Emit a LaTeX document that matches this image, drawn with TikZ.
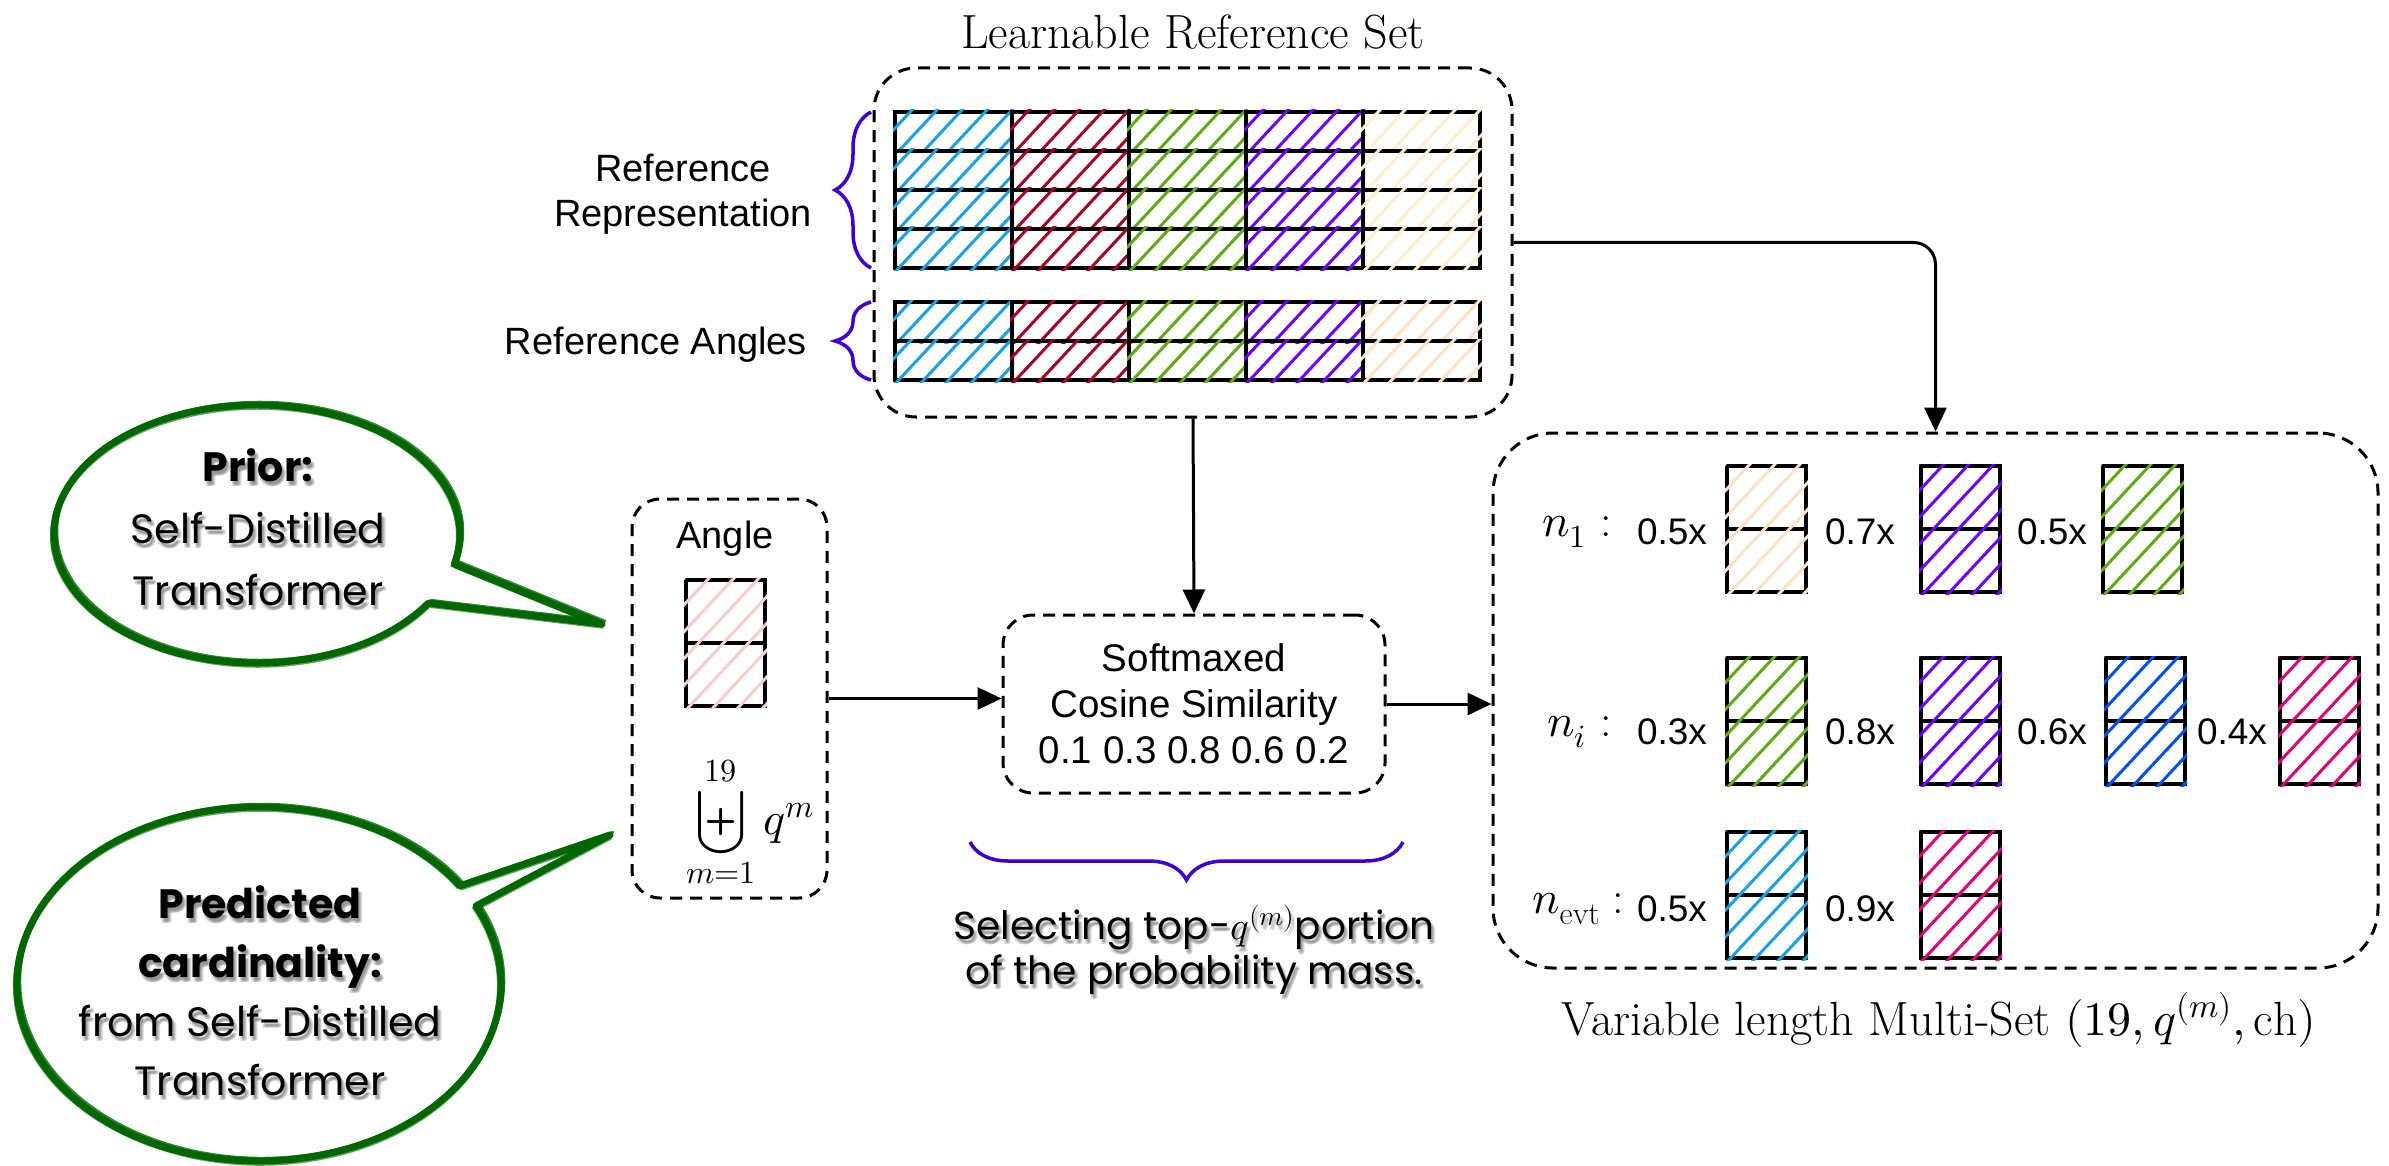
\documentclass[tikz,border=0pt]{standalone}
\usepackage{fontspec}
\usepackage{unicode-math}
\usetikzlibrary{arrows.meta,decorations.pathreplacing,calc}

\newfontfamily\helv{Liberation Sans}
\newfontfamily\comic{Poppins}

\definecolor{hcyan}{HTML}{1BA1E2}
\definecolor{hred}{HTML}{A20025}
\definecolor{hgreen}{HTML}{60A917}
\definecolor{hpurple}{HTML}{6A00FF}
\definecolor{hcream}{HTML}{FFEFCC}
\definecolor{hpeach}{HTML}{FFE2C6}
\definecolor{hblue}{HTML}{0050EF}
\definecolor{hpink}{HTML}{D80073}
\definecolor{hlpink}{HTML}{F8CECC}
\definecolor{bubgreen}{RGB}{0,102,0}
\definecolor{bracecol}{RGB}{58,0,214}

\tikzset{
  dashbox/.style={draw=black, line width=3pt, dash pattern=on 12pt off 8pt,
                  rounded corners=#1, inner sep=0pt},
  gridline/.style={draw=black, line width=4.5pt},
  cellbox/.style={draw=black, line width=4.5pt, minimum width=79pt,
                  minimum height=126pt, inner sep=0pt, outer sep=0pt},
  hatchline/.style={line width=3pt, line cap=round},
  arr/.style={line width=3pt, -{Triangle[length=24pt,width=22pt]}},
  bracestyle/.style={draw=bracecol, line width=3.5pt,
                     decorate, decoration={brace, amplitude=#1}},
  sanslbl/.style={font=\helv\fontsize{38}{45}\selectfont, align=center, inner sep=0pt},
  numlbl/.style={font=\helv\fontsize{37}{42}\selectfont, inner sep=0pt},
  mathlbl/.style={font=\fontsize{46}{52}\selectfont, inner sep=0pt},
  comictext/.style={align=center, inner sep=0pt},
  bubbleline/.style={draw=bubgreen, line join=round, line cap=round},
}

% diagonal hachure clipped to the box (x1,y1)-(x2,y2)
\newcommand{\hatchfill}[5]{%
  \begin{scope}
    \clip (#1-2,#2-2) rectangle (#3+2,#4+2);
    \pgfmathsetmacro{\hatchH}{#4-#2+8}
    \pgfmathsetmacro{\hatchR}{\hatchH*0.9325}
    \foreach \xs in {-200,-175,...,140}{
      \draw[hatchline, color=#5] ({#1+\xs},{#4+4}) -- ++(\hatchR,-\hatchH);
    }
  \end{scope}}

% one two-slot cell of the multi-set
\newcommand{\setcell}[4]{%
  \node[cellbox] (#1) at ({#2+39.5},{#3+63}) {};
  \draw[gridline] (#1.west) -- (#1.east);
  \hatchfill{#2}{#3}{#2+79}{#3+126}{#4}}

% hand-drawn speech bubble: centre, radii, arc angles, tail tip
\newcommand{\speechbubble}[8]{%
  \foreach \lw/\sx/\sy/\op in {7/0/0/1, 2.5/3/-3/0.8, 2/-3/2/0.7, 1.5/1/4/0.6}{
    \draw[bubbleline, line width=\lw pt, opacity=\op, shift={(\sx,\sy)}]
      ($(#1,#2)+(#5:#3 and #4)$)
      arc[start angle=#5, end angle=#6, x radius=#3, y radius=#4]
      -- (#7,#8) -- cycle;
  }}

% casual text with a soft drop shadow; #4 font size, #5 line distance
\newcommand{\softshadowtext}[6]{%
  \foreach \dx/\dy [count=\k] in {2/3,3/5,4/4,1/5}{
    \node[comictext, font=\comic\fontsize{#4}{#5}\selectfont, text=black, opacity=0.12]
      (#1sh\k) at ({#2+\dx},{#3+\dy}) {#6};
  }
  \node[comictext, font=\comic\fontsize{#4}{#5}\selectfont] (#1) at (#2,#3) {#6};}

\begin{document}
\begin{tikzpicture}[x=1pt,y=-1pt]
\useasboundingbox (0,0) rectangle (2389,1166);
\fill[white] (0,0) rectangle (2389,1166);

% ---------- learnable reference set ----------
\node[font=\fontsize{48}{55}\selectfont, inner sep=0pt] (title) at (1193,32) {Learnable Reference Set};
\node[dashbox=42pt, minimum width=638pt, minimum height=349pt] (refbox) at (1193,242.5) {};

\foreach \ci/\hcA/\hcB in {0/hcyan/hcyan,1/hred/hred,2/hgreen/hgreen,3/hpurple/hpurple,4/hcream/hpeach}{
  \pgfmathsetmacro{\xa}{895+117*\ci}
  \pgfmathsetmacro{\xb}{\xa+117}
  \foreach \ya in {112,151,190,229}{
    \draw[gridline] (\xa,\ya) rectangle (\xb,\ya+39);
    \hatchfill{\xa}{\ya}{\xb}{\ya+39}{\hcA}
  }
  \foreach \ya in {302,341}{
    \draw[gridline] (\xa,\ya) rectangle (\xb,\ya+39);
    \hatchfill{\xa}{\ya}{\xb}{\ya+39}{\hcB}
  }
}

\coordinate (brA1) at (871,268);
\coordinate (brA2) at (871,112);
\coordinate (brB1) at (871,380);
\coordinate (brB2) at (871,302);
\draw[bracestyle=36pt] (brA1) -- (brA2);
\draw[bracestyle=36pt] (brB1) -- (brB2);
\node[sanslbl] (reprlbl) at (683,194.5) {Reference\\Representation};
\node[sanslbl] (anglbl) at (656,345) {Reference Angles};

% ---------- angle query ----------
\node[dashbox=28pt, minimum width=195pt, minimum height=399pt] (anglebox) at (729.5,698.5) {};
\node[sanslbl] (angtxt) at (725,539) {Angle};
\node[cellbox] (angcell) at (725.5,643) {};
\draw[gridline] (angcell.west) -- (angcell.east);
\hatchfill{686}{580}{765}{706}{hlpink}
\node[font=\fontsize{46}{55}\selectfont, inner sep=0pt] (sumq) at (750,822)
  {$\displaystyle\biguplus_{m=1}^{19} q^{m}$};

% ---------- similarity ----------
\node[dashbox=30pt, minimum width=382pt, minimum height=178pt, sanslbl,
      font=\helv\fontsize{38.5}{46}\selectfont] (soft) at (1194,704)
  {Softmaxed\\Cosine Similarity\\0.1 0.3 0.8 0.6 0.2};
\coordinate (brC1) at (1403,842);
\coordinate (brC2) at (970,842);
\draw[bracestyle=38pt] (brC1) -- (brC2);
\softshadowtext{selecttxt}{1194}{950}{39}{45}{Selecting top-$q^{(m)}$portion\\of the probability mass.}

% ---------- multi-set ----------
\node[dashbox=60pt, minimum width=885pt, minimum height=535pt] (msbox) at (1935.5,700.5) {};

\setcell{ca}{1727}{466}{hpeach}
\setcell{cb}{1921}{466}{hpurple}
\setcell{cc}{2103}{466}{hgreen}
\setcell{cd}{1727}{658}{hgreen}
\setcell{ce}{1921}{658}{hpurple}
\setcell{cf}{2106}{658}{hblue}
\setcell{cg}{2280}{658}{hpink}
\setcell{ch}{1727}{832}{hcyan}
\setcell{ci}{1921}{832}{hpink}

\node[mathlbl, anchor=east] (nA) at (1612,532) {$n_{1}$\hspace{14pt}:};
\node[mathlbl, anchor=east] (nB) at (1612,732) {$n_{i}$\hspace{14pt}:};
\node[mathlbl, anchor=east] (nC) at (1624,909) {$n_{\mathrm{evt}}$\hspace{12pt}:};

\node[numlbl] (wa) at (1672,532) {0.5x};
\node[numlbl] (wb) at (1860,532) {0.7x};
\node[numlbl] (wc) at (2052,532) {0.5x};
\node[numlbl] (wd) at (1672,732) {0.3x};
\node[numlbl] (we) at (1860,732) {0.8x};
\node[numlbl] (wf) at (2052,732) {0.6x};
\node[numlbl] (wg) at (2232,732) {0.4x};
\node[numlbl] (wh) at (1672,909) {0.5x};
\node[numlbl] (wi) at (1860,909) {0.9x};

\node[font=\fontsize{48}{55}\selectfont, inner sep=0pt] (mslbl) at (1939,1020)
  {Variable length Multi-Set $(19,q^{(m)},\mathrm{ch})$};

% ---------- connectors ----------
\draw[arr, rounded corners=22pt] (refbox.east) -| (msbox.north);
\draw[arr] (refbox.south) -- (soft.north);
\draw[arr] (anglebox.east) -- (anglebox.east -| soft.west);
\draw[arr] (soft.east) -- (soft.east -| msbox.west);

% ---------- speech bubbles ----------
\speechbubble{257}{534}{203}{129}{32.4}{373.4}{602}{624}
\softshadowtext{priortxt}{258}{527}{41}{62}{\textbf{Prior:}\\Self-Distilled\\Transformer}

\speechbubble{259}{984}{242}{177}{-26.2}{326.3}{610}{835}
\softshadowtext{cardtxt}{260}{991}{41}{59}{\textbf{Predicted}\\\textbf{cardinality:}\\from Self-Distilled\\Transformer}
\end{tikzpicture}
\end{document}
